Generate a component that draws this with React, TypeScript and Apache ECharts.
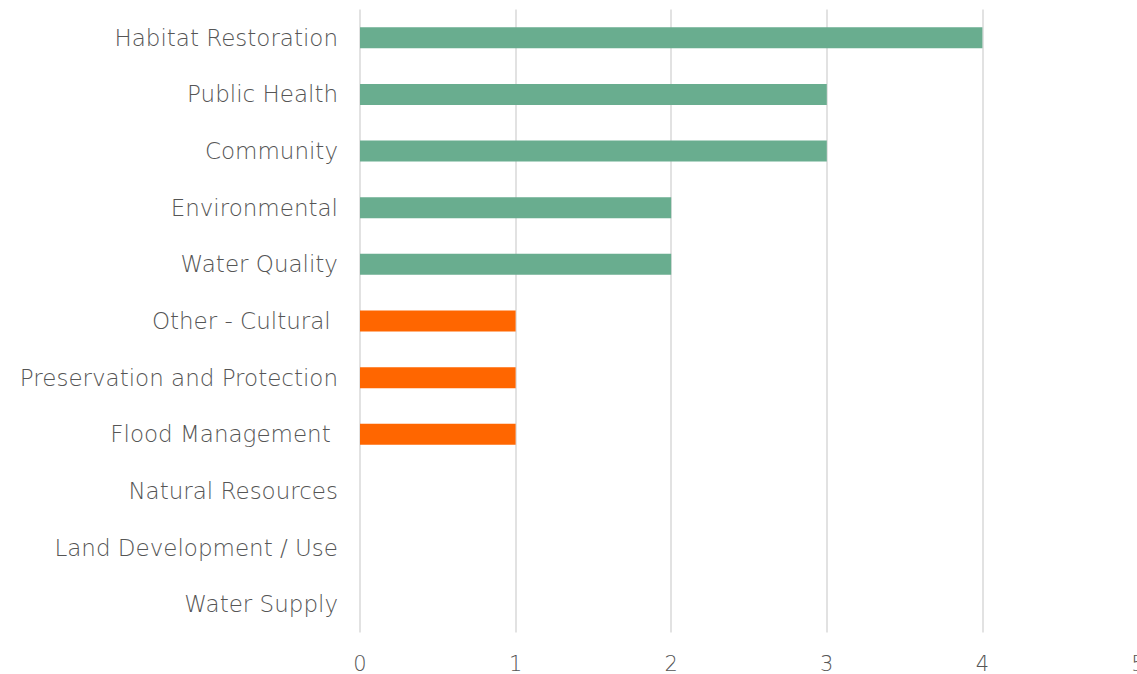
import React, { useEffect, useRef } from "react";
import * as echarts from "echarts";

const categories = [
  "Habitat Restoration",
  "Public Health",
  "Community",
  "Environmental",
  "Water Quality",
  "Other - Cultural ",
  "Preservation and Protection",
  "Flood Management ",
  "Natural Resources",
  "Land Development / Use",
  "Water Supply",
];
const values = [4, 3, 3, 2, 2, 1, 1, 1, 0, 0, 0];
const highlighted = ["Other - Cultural ", "Preservation and Protection", "Flood Management "];
const xTicks = [0, 1, 2, 3, 4, 5];

const GREEN = "#69AD8F";
const ORANGE = "#FF6600";
const TEXT = "#555555";
const FONT = "'DejaVu Sans', sans-serif";

export default function App() {
  const ref = useRef<HTMLDivElement>(null);
  useEffect(() => {
    if (!ref.current) return;
    const chart = echarts.init(ref.current, undefined, { renderer: "svg" });
    chart.setOption({
      animation: false,
      grid: {
        left: 360,
        right: -1,
        top: 9.5,
        bottom: 41.5,
        containLabel: false,
        outerBoundsMode: "none",
      },
      xAxis: {
        type: "value",
        min: xTicks[0],
        max: xTicks[xTicks.length - 1],
        interval: 1,
        axisLine: { show: false },
        axisTick: { show: false },
        splitLine: { show: true, lineStyle: { color: "#d9d9d9", width: 1.5 } },
        axisLabel: {
          color: TEXT,
          fontSize: 21,
          lineHeight: 20,
          fontFamily: FONT,
          margin: 21,
          fontWeight: 300,
        },
      },
      yAxis: {
        type: "category",
        inverse: true,
        data: categories,
        axisLine: { show: false },
        axisTick: { show: false },
        axisLabel: {
          color: TEXT,
          fontSize: 23,
          fontFamily: FONT,
          fontWeight: 300,
          margin: 22,
          formatter: (v: string) => v.replace(/ $/, "\u00a0"),
        },
      },
      series: [
        {
          type: "bar",
          barWidth: 21,
          data: values.map((v, i) => ({
            value: v,
            itemStyle: { color: highlighted.includes(categories[i]) ? ORANGE : GREEN },
          })),
        },
      ],
    });
    return () => chart.dispose();
  }, []);
  return (
    <div
      ref={ref}
      style={{ position: "fixed", left: 0, top: 0, width: 1137, height: 674, background: "#fff" }}
    />
  );
}
